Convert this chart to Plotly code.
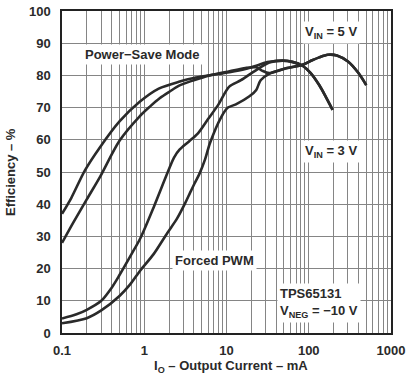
import plotly.graph_objects as go

# ---- data ----
# Power-Save Mode, VIN = 3 V (upper light-load curve)
psm3_x = [0.1, 0.13, 0.19, 0.29, 0.5, 0.88, 1.5, 2.7, 4, 6.2, 10.9, 17, 23, 30, 33, 48, 63, 84, 105, 134, 160, 195]
psm3_y = [37, 42, 50.5, 57.7, 65.7, 71.8, 75.9, 78.1, 79.2, 80, 81, 82, 83, 84, 84.2, 84.6, 84.2, 83, 80.8, 77, 73.5, 69.3]

# Power-Save Mode, VIN = 5 V (lower light-load curve)
psm5_x = [0.1, 0.137, 0.2, 0.29, 0.5, 0.88, 1.17, 1.54, 2.04, 2.69, 4, 6.2, 10.9, 17, 23, 27, 33, 53, 84, 110, 134, 170, 220, 300, 400, 500]
psm5_y = [28, 34.3, 41.5, 48.5, 59.7, 67.3, 70.3, 72.9, 75, 76.9, 78.5, 80, 81.3, 82.3, 82.5, 81.5, 80.7, 82.2, 83.3, 84.7, 85.6, 86.4, 86.2, 84.3, 80.8, 77]

# Forced PWM, VIN = 3 V
pwm3_x = [0.1, 0.15, 0.2, 0.3, 0.4, 0.5, 0.7, 0.9, 1.3, 1.9, 2.3, 2.7, 3.5, 4.5, 6, 8, 10.8, 15, 21, 33, 48, 63, 84, 105, 134, 160, 195]
pwm3_y = [4.5, 5.8, 7.2, 10, 14, 18, 24.5, 29.5, 39, 49.5, 54.5, 57, 59.5, 62, 66.5, 71, 76.5, 78.5, 81, 84, 84.6, 84.2, 83, 80.8, 77, 73.5, 69.3]

# Forced PWM, VIN = 5 V
pwm5_x = [0.1, 0.2, 0.3, 0.5, 0.67, 0.9, 1.3, 1.9, 2.5, 3.1, 3.6, 4.1, 4.7, 5.5, 6.3, 8.6, 10.4, 13, 19, 23, 26, 33, 53, 84, 110, 134, 170, 220, 300, 400, 500]
pwm5_y = [3, 4.6, 7, 11.5, 15, 19.5, 24.5, 31, 35.5, 40, 43.5, 46.5, 49.5, 54, 59, 67, 70, 71, 73.5, 75.5, 78.5, 80.5, 82.2, 83.3, 84.7, 85.6, 86.4, 86.2, 84.3, 80.8, 77]

y_ticks = [0, 10, 20, 30, 40, 50, 60, 70, 80, 90, 100]
x_ticks = [0.1, 1, 10, 100, 1000]
x_tick_text = ["0.1", "1", "10", "100", "1000"]

FONT = "Liberation Sans, Arial, sans-serif"
INK = "#2a2a2a"

fig = go.Figure()
for xs, ys in [(psm3_x, psm3_y), (psm5_x, psm5_y), (pwm3_x, pwm3_y), (pwm5_x, pwm5_y)]:
    fig.add_trace(go.Scatter(x=xs, y=ys, mode="lines",
                             line=dict(color=INK, width=2.6, shape="spline", smoothing=0.8),
                             showlegend=False, hoverinfo="skip"))

grid = "#858585"
fig.update_xaxes(type="log", range=[-1, 3], tickvals=x_ticks, ticktext=x_tick_text,
                 showgrid=True, gridcolor=grid, gridwidth=1,
                 minor=dict(dtick="D1", showgrid=True, gridcolor=grid, gridwidth=1, ticks=""),
                 showline=True, linecolor="#222", linewidth=1.5, mirror=True,
                 ticks="", zeroline=False, ticklabeloverflow="allow",
                 tickfont=dict(family=FONT, size=13, color=INK, weight="bold"),
                 ticklabelstandoff=5)
fig.update_yaxes(range=[0, 100], tickvals=y_ticks,
                 showgrid=True, gridcolor=grid, gridwidth=1,
                 showline=True, linecolor="#222", linewidth=1.5, mirror=True,
                 ticks="", zeroline=False, ticklabeloverflow="allow",
                 tickfont=dict(family=FONT, size=13, color=INK, weight="bold"),
                 ticklabelstandoff=7)

def label(text, x, y, xanchor="left", align="left"):
    fig.add_annotation(text=text, x=x, y=y, xref="paper", yref="paper",
                       xanchor=xanchor, yanchor="middle", align=align, showarrow=False,
                       bgcolor="white", borderpad=2,
                       font=dict(family=FONT, size=13, color=INK, weight="bold"))

label("Power\u2212Save Mode", 0.062, 0.864)
label("V<sub>IN</sub> = 5 V", 0.728, 0.933)
label("V<sub>IN</sub> = 3 V", 0.728, 0.563)
label("Forced PWM", 0.335, 0.225)
label("TPS65131<br>V<sub>NEG</sub> = \u221210 V", 0.655, 0.092)

# axis titles
fig.add_annotation(text="Efficiency \u2013 %", x=-0.158, y=0.5, xref="paper", yref="paper",
                   textangle=-90, showarrow=False, xanchor="center", yanchor="middle",
                   font=dict(family=FONT, size=13, color=INK, weight="bold"))
fig.add_annotation(text="I<sub>O</sub> \u2013 Output Current \u2013 mA", x=0.515, y=-0.103,
                   xref="paper", yref="paper", showarrow=False, xanchor="center", yanchor="middle",
                   font=dict(family=FONT, size=13, color=INK, weight="bold"))

fig.update_layout(width=409, height=374, margin=dict(l=62, r=17, t=4, b=41),
                  paper_bgcolor="white", plot_bgcolor="white")
fig.write_html("out.html", config={"displayModeBar": False},
               post_script="document.body.style.margin='0px';document.body.style.overflow='hidden';")
